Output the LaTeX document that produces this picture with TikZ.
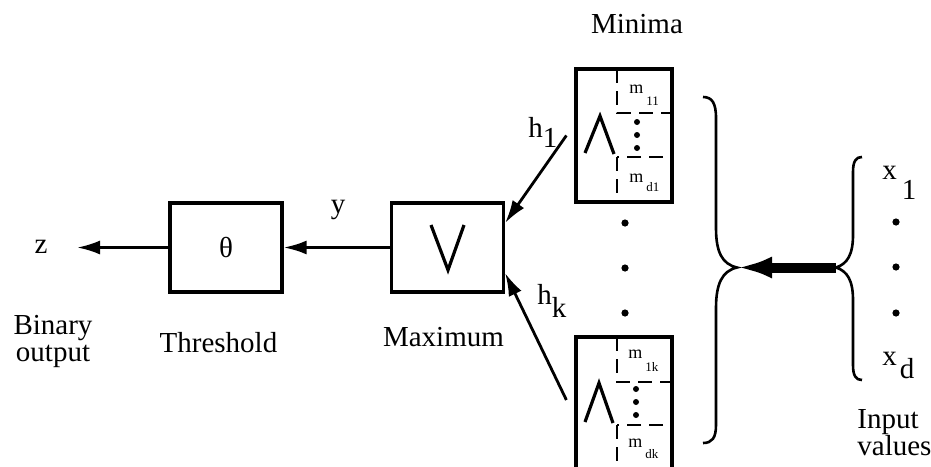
\documentclass[tikz,border=0pt]{standalone}
\usepackage{fontspec}
\setmainfont{Liberation Serif}
\usepackage{tikz}
\usetikzlibrary{arrows.meta,positioning}
\newcommand{\subfont}{\fontsize{6.5}{6.5}\selectfont}

\begin{document}
\begin{tikzpicture}[
        x=0.5pt,y=-0.5pt,
        box/.style={draw,line width=1.6pt,minimum width=56pt,minimum height=44.5pt,inner sep=0pt},
        minbox/.style={draw,line width=1.6pt,minimum width=48pt,minimum height=66.5pt,inner sep=0pt},
        cell/.style={draw,line width=1.4pt,dash pattern=on 7pt off 4pt},
        sym/.style={line width=1.6pt},
        arr/.style={-{Latex[length=11.5pt,width=7pt]},line width=1.4pt},
        bigarr/.style={-{Latex[length=17.5pt,width=11pt]},line width=5pt},
        brace/.style={line width=1.3pt},
        lbl/.style={font=\fontsize{14.5}{13.5}\selectfont,inner sep=0pt},
        mlbl/.style={font=\fontsize{9}{9}\selectfont,inner sep=0pt,anchor=base west}
      ]
        \clip (0,0) rectangle (931,466);
        % boxes
        \node[box] (thr) at (226,247.5) {};
        \node[box] (maxb) at (447.5,247.5) {};
        \node[minbox] (min1) at (624,135.5) {};
        \node[minbox] (mink) at (624,403.5) {};
        \node[lbl] (theta) at (thr) {θ};
        \draw[sym] (431,225) -- (448,270) -- (464,225);
        % inside the minima boxes
        \draw[cell] (617,69) rectangle (672,113);
        \draw[cell] (617,157) rectangle (672,202);
        \draw[cell] (617,337) rectangle (672,382);
        \draw[cell] (617,425) rectangle (672,470);
        \draw[sym] (585,153) -- (600,116) -- (614,154);
        \draw[sym] (585,422) -- (599,383) -- (613,423);
        \fill (637,122) circle (1.5pt) (637,135) circle (1.5pt) (637,148) circle (1.5pt);
        \fill (636,389) circle (1.5pt) (636,402) circle (1.5pt) (636,415) circle (1.5pt);
        \fill (625,223) circle (1.8pt) (625,268) circle (1.8pt) (625,313) circle (1.8pt);
        \node[mlbl] (m11) at (629,93) {m\hspace{1.5pt}\raisebox{-6pt}{\subfont 11}};
        \node[mlbl] (md1) at (629,182) {m\hspace{1.5pt}\raisebox{-4.5pt}{\subfont d1}};
        \node[mlbl] (m1k) at (628,358) {m\hspace{1.5pt}\raisebox{-6.5pt}{\subfont 1k}};
        \node[mlbl] (mdk) at (628,447) {m\hspace{1.5pt}\raisebox{-5.5pt}{\subfont dk}};
        % braces
        \coordinate (inL) at (737,267.5);
        \coordinate (inR) at (836,267.5);
        \draw[brace] (703,97) .. controls (712,97) and (716,103) .. (716,118) -- (716,228)
          .. controls (716,252) and (722,264) .. (inL)
          .. controls (722,271) and (716,284) .. (716,308) -- (716,425)
          .. controls (716,438) and (712,443) .. (703,443);
        \draw[brace] (862,157) .. controls (856,157) and (853,161) .. (853,172) -- (853,235)
          .. controls (853,255) and (847,264) .. (inR)
          .. controls (847,271) and (853,280) .. (853,300) -- (853,365)
          .. controls (853,376) and (856,380) .. (862,380);
        \fill (896,222) circle (1.8pt) (896,267) circle (1.8pt) (896,313) circle (1.8pt);
        % connectors
        \coordinate (zend) at (77,247.5);
        \draw[arr] (thr) -- (zend);
        \draw[arr] (maxb) -- (thr);
        \draw[arr] ([xshift=-4pt]min1.west) -- ([yshift=12.25pt]maxb.east);
        \draw[arr] ([xshift=-4pt,yshift=1.75pt]mink.west) -- ([yshift=-12.75pt]maxb.east);
        \draw[bigarr] (inR) -- (inL);
        % labels
        \node[lbl,anchor=base] (zlab) at (41,253) {z};
        \node[lbl,anchor=base] (ylab) at (338,213) {y};
        \node[lbl,anchor=base west] (h1lab) at (528,137) {h\raisebox{-5pt}{1}};
        \node[lbl,anchor=base west] (hklab) at (537,304) {h\raisebox{-6.5pt}{k}};
        \node[lbl,anchor=base west] (x1lab) at (882,179) {x\hspace{2.5pt}\raisebox{-10pt}{1}};
        \node[lbl,anchor=base west] (xdlab) at (882,365) {x\hspace{1.5pt}\raisebox{-6.5pt}{d}};
        \node[lbl,anchor=base] (minlab) at (637,33) {Minima};
        \node[lbl,anchor=north,align=center] (outlab) at (53,315) {Binary\\output};
        \node[lbl,anchor=base] (thrlab) at (218.5,352) {Threshold};
        \node[lbl,anchor=base] (maxlab) at (443.5,346) {Maximum};
        \node[lbl,anchor=north west,align=left] (inlab) at (857,409) {Input\\values};
      \end{tikzpicture}
\end{document}
